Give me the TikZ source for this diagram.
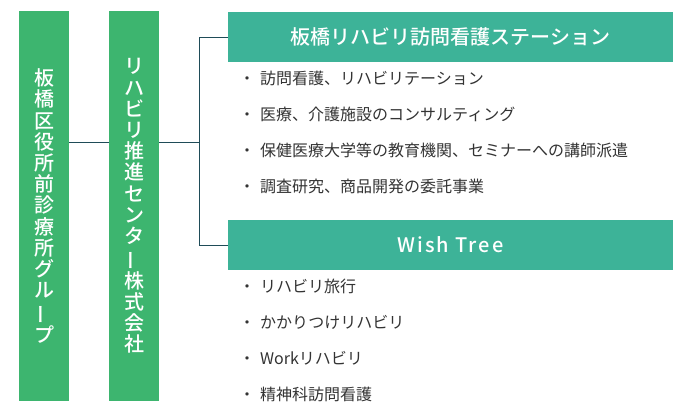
\documentclass[tikz,border=0pt]{standalone}
\usepackage{fontspec}
\setmainfont{Noto Sans CJK JP}[BoldFont={Noto Sans CJK JP Medium}]
\usepackage{xcolor}
\usetikzlibrary{calc}
\definecolor{groupgreen}{HTML}{3DB56F}
\definecolor{headteal}{HTML}{3DB398}
\definecolor{linedark}{HTML}{1F4C58}
\definecolor{itemgray}{HTML}{333333}
\newcommand{\vbar}{\rotatebox[origin=c]{90}{ー}}

\begin{document}
\begin{tikzpicture}[x=1pt,y=-1pt]
\tikzset{
	tate box/.style = {fill=groupgreen, text=white, minimum width=50pt, minimum height=390pt, inner sep=0pt, align=center, font=\bfseries\fontsize{20}{21.2}\selectfont},
	head box/.style = {fill=headteal, text=white, minimum width=445pt, minimum height=50pt, inner sep=0pt, font=\bfseries\fontsize{20}{24}\selectfont},
	item text/.style = {anchor=west, text=itemgray, inner sep=0pt, font=\fontsize{16}{19}\selectfont},
	tree line/.style = {draw=linedark, line width=1pt},
}
\useasboundingbox (0,0) rectangle (692,413);

\node (g1)[tate box] at (44,206) {板\\橋\\区\\役\\所\\前\\診\\療\\所\\グ\\ル\\\vbar\\プ};
\node (g2)[tate box] at (134,206) {リ\\ハ\\ビ\\リ\\推\\進\\セ\\ン\\タ\\\vbar\\株\\式\\会\\社};

\node (h1)[head box] at (450.5,37) {板橋リハビリ訪問看護ステーション};
\node (h2)[head box] at (450.5,245) {\addfontfeature{LetterSpace=10}Wish Tree};

\coordinate (j) at (199.5,142);
\draw[tree line] (g1.east |- j) -- (g2.west |- j);
\draw[tree line] (g2.east |- j) -- (j);
\draw[tree line] (h1.west) -| (j) |- (h2.west);

\foreach \i/\t in {1/訪問看護、リハビリテーション,2/医療、介護施設のコンサルティング,3/保健医療大学等の教育機関、セミナーへの講師派遣,4/調査研究、商品開発の委託事業}
	\node (st-\i)[item text] at (239,{42+36*\i}) {・\hspace{5pt}\t};

\foreach \i/\t in {1/リハビリ旅行,2/かかりつけリハビリ,3/Workリハビリ,4/精神科訪問看護}
	\node (wt-\i)[item text] at (239,{250+36*\i}) {・\hspace{5pt}\t};

\end{tikzpicture}
\end{document}
